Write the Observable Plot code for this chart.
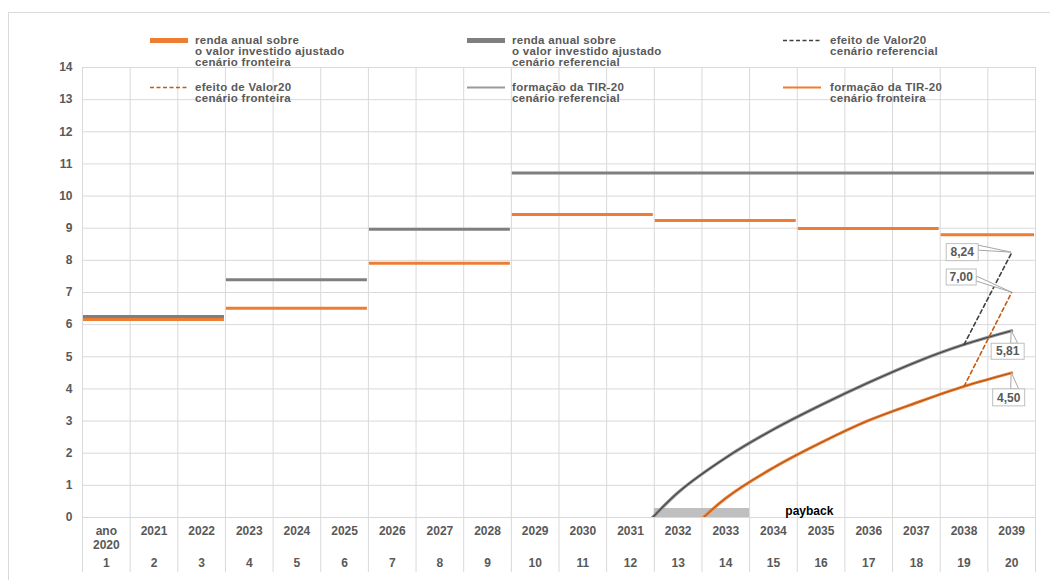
<!DOCTYPE html>
<html lang="pt">
<head>
<meta charset="utf-8">
<script src="https://cdn.jsdelivr.net/npm/d3@7"></script>
<script src="https://cdn.jsdelivr.net/npm/@observablehq/plot@0.6"></script>
<style>
  html, body { margin: 0; padding: 0; background: #fff; }
  body { font-family: "Liberation Sans", Arial, sans-serif; }
  #wrap { position: relative; width: 1050px; height: 580px; overflow: hidden; }
  #frame { position: absolute; left: 8px; top: 12px; width: 1100px; height: 640px;
           border: 1px solid #d9d9d9; box-sizing: border-box; }
  #chart { position: absolute; left: 0; top: 0; }
  #legend { position: absolute; left: 0; top: 0; width: 1050px; height: 110px; pointer-events: none; }
  .item { position: absolute; }
  .item svg { position: absolute; left: 0; top: 0; }
  .item .txt { position: absolute; top: 0; white-space: nowrap; font-size: 11.5px; line-height: 11px;
               font-weight: bold; color: #595959; letter-spacing: 0.3px; }
</style>
</head>
<body>
<div id="wrap">
  <div id="frame"></div>
  <div id="chart"></div>
  <div id="legend"></div>
</div>
<script>
// Colunas do eixo horizontal: ano de calendário e ano do investimento
const anos = d3.range(1, 21);
const rotulosAno = ["ano\n2020", "2021", "2022", "2023", "2024", "2025", "2026", "2027", "2028", "2029",
                    "2030", "2031", "2032", "2033", "2034", "2035", "2036", "2037", "2038", "2039"];
const ticksY = d3.range(0, 15);

// Renda anual sobre o valor investido ajustado (patamares por faixa de anos)
const rendaFronteiraDe    = [1, 4, 7, 10, 13, 16, 19];
const rendaFronteiraAte   = [3, 6, 9, 12, 15, 18, 20];
const rendaFronteiraValor = [6.16, 6.51, 7.91, 9.43, 9.24, 8.99, 8.80];

const rendaReferencialDe    = [1, 4, 7, 10];
const rendaReferencialAte   = [3, 6, 9, 20];
const rendaReferencialValor = [6.25, 7.40, 8.97, 10.72];

// Formação da TIR-20 (valores negativos ficam abaixo do eixo e são recortados)
const tirReferencialAnos  = [12, 13, 14, 15, 16, 17, 18, 19, 20];
const tirReferencialValor = [-0.75, 0.78, 1.86, 2.74, 3.50, 4.20, 4.84, 5.38, 5.81];

const tirFronteiraAnos  = [13, 14, 15, 16, 17, 18, 19, 20];
const tirFronteiraValor = [-0.75, 0.60, 1.55, 2.33, 3.02, 3.57, 4.08, 4.50];

// Efeito de Valor20 no último ano
const valor20Anos = [19, 20];
const valor20Referencial = [5.38, 8.24];
const valor20Fronteira   = [4.08, 7.00];

// Período de payback
const paybackAnos = [13, 14];

const laranja = "#ED7D31";
const cinza = "#7F7F7F";
const laranjaEscuro = "#C65A14";
const cinzaEscuro = "#404040";
const corTexto = "#595959";
const corGrade = "#d9d9d9";

const fmt = v => d3.format(".2f")(v).replace(".", ",");
const limites = anos.map(a => a - 0.5).concat([anos[anos.length - 1] + 0.5]);

const plot = Plot.plot({
  width: 1050,
  height: 580,
  marginLeft: 82,
  marginRight: 15,
  marginTop: 67,
  marginBottom: 63,
  style: { fontFamily: "'Liberation Sans', Arial, sans-serif", background: "transparent", overflow: "visible" },
  x: { type: "linear", domain: [0.5, 20.5], axis: null },
  y: { domain: [0, 14], axis: null },
  marks: [
    // grade
    Plot.ruleY(ticksY, { y: d => d, stroke: corGrade, strokeWidth: 1 }),
    Plot.ruleX(limites, { x: d => d, stroke: corGrade, strokeWidth: 1, insetBottom: -55 }),

    // rótulos do eixo vertical
    Plot.text(ticksY, { y: d => d, text: d => String(d), frameAnchor: "left", textAnchor: "end", dx: -10,
                        fill: corTexto, fontWeight: "bold", fontSize: 12 }),
    // rótulos do eixo horizontal: anos e numeração
    Plot.text(anos, { x: d => d, text: d => rotulosAno[d - 1], frameAnchor: "bottom", lineAnchor: "top",
                      dy: 7, lineHeight: 1.2, fill: corTexto, fontWeight: "bold", fontSize: 12 }),
    Plot.text(anos, { x: d => d, text: d => String(d), frameAnchor: "bottom", lineAnchor: "top",
                      dy: 41, fill: corTexto, fontWeight: "bold", fontSize: 12 }),

    // payback
    Plot.rect([paybackAnos], { x1: d => d[0] - 0.5, x2: d => d[1] + 0.5, y1: 0, y2: 0, insetTop: -9,
                               fill: "#bfbfbf" }),
    Plot.text(["payback"], { x: 15.25, y: 0, text: d => d, textAnchor: "start", dy: -6,
                             fill: "#000", fontWeight: "bold", fontSize: 12 }),

    // renda anual sobre o valor investido ajustado
    Plot.ruleY(d3.range(rendaReferencialValor.length), {
      y: i => rendaReferencialValor[i], x1: i => rendaReferencialDe[i] - 0.5, x2: i => rendaReferencialAte[i] + 0.5,
      stroke: cinza, strokeWidth: 3, insetLeft: 1, insetRight: 1 }),
    Plot.ruleY(d3.range(rendaFronteiraValor.length), {
      y: i => rendaFronteiraValor[i], x1: i => rendaFronteiraDe[i] - 0.5, x2: i => rendaFronteiraAte[i] + 0.5,
      stroke: laranja, strokeWidth: 3, insetLeft: 1, insetRight: 1 }),

    // formação da TIR-20
    Plot.line(tirReferencialAnos, { x: d => d, y: (d, i) => tirReferencialValor[i], curve: "catmull-rom",
                                    stroke: "#8f8f8f", strokeWidth: 3.2, clip: true }),
    Plot.line(tirReferencialAnos, { x: d => d, y: (d, i) => tirReferencialValor[i], curve: "catmull-rom",
                                    stroke: "#333", strokeWidth: 1.1, strokeOpacity: 0.85, clip: true }),
    Plot.line(tirFronteiraAnos, { x: d => d, y: (d, i) => tirFronteiraValor[i], curve: "catmull-rom",
                                  stroke: laranja, strokeWidth: 3, clip: true }),
    Plot.line(tirFronteiraAnos, { x: d => d, y: (d, i) => tirFronteiraValor[i], curve: "catmull-rom",
                                  stroke: "#5a2a0c", strokeWidth: 0.9, strokeOpacity: 0.55, clip: true }),

    // efeito de Valor20
    Plot.line(valor20Anos, { x: d => d, y: (d, i) => valor20Referencial[i], stroke: cinzaEscuro,
                             strokeWidth: 1.6, strokeDasharray: "4,3" }),
    Plot.line(valor20Anos, { x: d => d, y: (d, i) => valor20Fronteira[i], stroke: laranjaEscuro,
                             strokeWidth: 1.6, strokeDasharray: "4,3" })
  ]
});
document.getElementById("chart").appendChild(plot);

// Rótulos em balão para os valores do último ano
const ultimo = anos[anos.length - 1];
const baloes = [
  { valor: valor20Referencial[1], dx: -49, dy: 0,   w: 32, h: 17, lado: "direita", b0: -7, b1: -2 },
  { valor: valor20Fronteira[1],   dx: -50, dy: -15, w: 30, h: 16, lado: "direita", b0: -1, b1: 4 },
  { valor: tirReferencialValor[tirReferencialValor.length - 1], dx: -3.5, dy: 21, w: 33, h: 16, lado: "topo", b0: 3, b1: 10 },
  { valor: tirFronteiraValor[tirFronteiraValor.length - 1],     dx: -2.5, dy: 25, w: 32, h: 17, lado: "topo", b0: 2, b1: 10 }
];
const sx = plot.scale("x"), sy = plot.scale("y");
const gb = d3.select(plot).append("g").attr("class", "baloes");
baloes.forEach(b => {
  const px = sx.apply(ultimo), py = sy.apply(b.valor);
  const cx = px + b.dx, cy = py + b.dy;
  const x0 = cx - b.w / 2, y0 = cy - b.h / 2;
  let pts;
  if (b.lado === "direita") {
    pts = [[x0 + b.w, cy + b.b0], [px, py], [x0 + b.w, cy + b.b1]];
  } else {
    pts = [[cx + b.b0, y0], [px, py], [cx + b.b1, y0]];
  }
  gb.append("path")
    .attr("d", d3.line()(pts) + "Z")
    .attr("fill", "#fff").attr("stroke", "#a6a6a6").attr("stroke-width", 1);
  gb.append("rect")
    .attr("x", x0).attr("y", y0).attr("width", b.w).attr("height", b.h)
    .attr("fill", "#fff").attr("stroke", "#bfbfbf").attr("stroke-width", 1);
  gb.append("text")
    .attr("x", cx).attr("y", cy).attr("dy", "0.35em")
    .attr("text-anchor", "middle")
    .attr("fill", corTexto).attr("font-weight", "bold").attr("font-size", 12)
    .text(fmt(b.valor));
});

// Legenda
const legenda = [
  { linhas: ["renda anual sobre", "o valor investido ajustado", "cenário fronteira"], tipo: "barra", cor: laranja, col: 0, lin: 0 },
  { linhas: ["renda anual sobre", "o valor investido ajustado", "cenário referencial"], tipo: "barra", cor: cinza, col: 1, lin: 0 },
  { linhas: ["efeito de Valor20", "cenário referencial"], tipo: "tracejado", cor: cinzaEscuro, col: 2, lin: 0 },
  { linhas: ["efeito de Valor20", "cenário fronteira"], tipo: "tracejado", cor: laranjaEscuro, col: 0, lin: 1 },
  { linhas: ["formação da TIR-20", "cenário referencial"], tipo: "linha", cor: "#9a9a9a", col: 1, lin: 1 },
  { linhas: ["formação da TIR-20", "cenário fronteira"], tipo: "linha", cor: laranja, col: 2, lin: 1 }
];
const colX = [150, 467, 783];
const textoX = [45, 45, 47];
const linY = [35, 82];
const leg = d3.select("#legend");
legenda.forEach(e => {
  const it = leg.append("div").attr("class", "item")
    .style("left", colX[e.col] + "px").style("top", linY[e.lin] + "px");
  const s = it.append("svg").attr("width", 40).attr("height", 11);
  if (e.tipo === "barra") {
    s.append("rect").attr("x", 0).attr("y", 3).attr("width", 38).attr("height", 5).attr("fill", e.cor);
  } else {
    s.append("line").attr("x1", 0).attr("x2", 38).attr("y1", 5.5).attr("y2", 5.5)
      .attr("stroke", e.cor).attr("stroke-width", e.tipo === "linha" ? 2 : 1.6)
      .attr("stroke-dasharray", e.tipo === "tracejado" ? "4,2.5" : null);
  }
  const t = it.append("div").attr("class", "txt").style("left", textoX[e.col] + "px");
  e.linhas.forEach(l => t.append("div").text(l));
});
</script>
</body>
</html>
